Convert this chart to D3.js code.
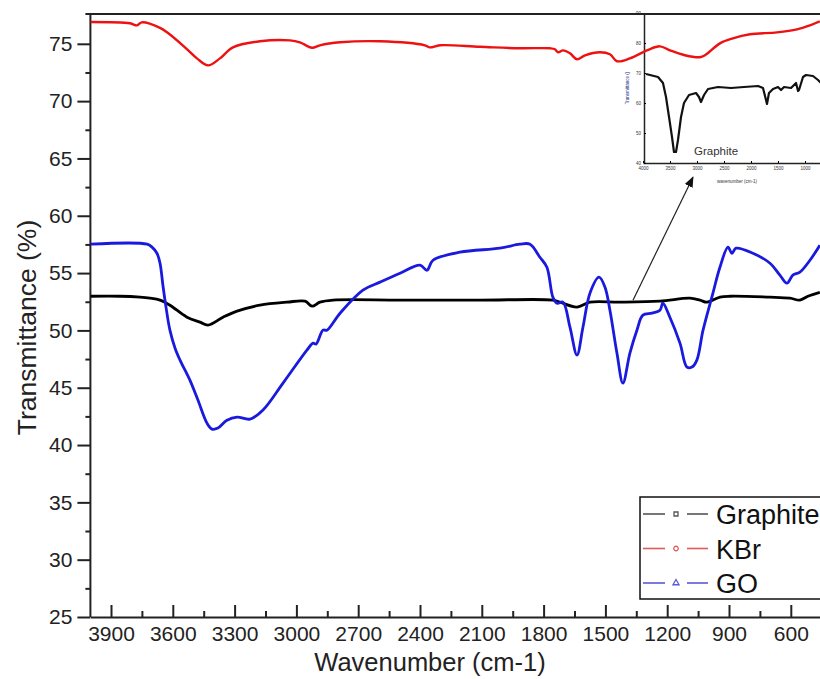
<!DOCTYPE html>
<html>
<head>
<meta charset="utf-8">
<script src="https://cdn.jsdelivr.net/npm/d3@7"></script>
<style>
    body { margin: 0; background: #fff; }
    svg { display: block; font-family: "Liberation Sans", Arial, sans-serif; }
    .tick-text { font-size: 21px; fill: #222; }
    .axis-title { font-size: 25.5px; fill: #222; }
    .y-title { font-size: 26.5px; fill: #222; }
    .legend-text { font-size: 27px; fill: #111; }
    .inset-text { font-size: 4.5px; fill: #333; }
</style>
</head>
<body>
<svg id="chart" width="820" height="679"></svg>
<script>
// Graphite (main plot)
const graphiteWave = [4000, 3856, 3759, 3711, 3662, 3614, 3531, 3468, 3429, 3356, 3288, 3177, 3046, 2958, 2924, 2886, 2822, 2497, 2109, 1755, 1721, 1638, 1575, 1429, 1235, 1090, 1041, 1007, 944, 895, 701, 604, 556, 517, 459];
const graphiteT = [52.98, 52.98, 52.90, 52.81, 52.64, 52.20, 51.15, 50.72, 50.46, 51.15, 51.68, 52.20, 52.46, 52.55, 52.11, 52.46, 52.64, 52.64, 52.64, 52.64, 52.46, 52.03, 52.46, 52.46, 52.55, 52.81, 52.64, 52.46, 52.90, 52.98, 52.90, 52.81, 52.64, 52.98, 53.33];

// KBr
const kbrWave = [4000, 3808, 3774, 3750, 3662, 3628, 3541, 3483, 3429, 3371, 3308, 3177, 3031, 2983, 2924, 2886, 2788, 2594, 2376, 2352, 2303, 2109, 1915, 1769, 1745, 1730, 1706, 1672, 1638, 1599, 1526, 1478, 1444, 1381, 1298, 1235, 1187, 1114, 1041, 1017, 944, 881, 798, 667, 570, 507, 459];
const kbrT = [76.90, 76.79, 76.61, 76.87, 76.39, 76.00, 74.69, 73.73, 73.12, 73.73, 74.69, 75.22, 75.30, 75.13, 74.65, 74.87, 75.13, 75.22, 74.87, 74.69, 74.87, 74.74, 74.61, 74.61, 74.52, 74.26, 74.43, 74.17, 73.65, 74.00, 74.26, 74.09, 73.48, 73.73, 74.43, 74.78, 74.43, 74.00, 73.83, 74.00, 75.04, 75.48, 75.83, 76.00, 76.26, 76.61, 76.96];

// GO
const goWave = [4000, 3725, 3701, 3677, 3662, 3648, 3633, 3614, 3589, 3565, 3517, 3478, 3434, 3410, 3381, 3337, 3288, 3225, 3162, 3065, 2949, 2919, 2905, 2871, 2852, 2788, 2677, 2594, 2497, 2400, 2366, 2337, 2206, 2012, 1915, 1866, 1818, 1784, 1755, 1735, 1706, 1672, 1638, 1609, 1575, 1531, 1502, 1478, 1444, 1415, 1381, 1347, 1318, 1274, 1235, 1221, 1187, 1138, 1104, 1080, 1056, 1026, 978, 944, 905, 886, 866, 784, 701, 653, 619, 590, 556, 507, 459];
const goT = [57.52, 57.52, 57.26, 56.73, 55.86, 53.94, 52.03, 50.02, 48.45, 47.41, 45.66, 43.92, 41.91, 41.39, 41.48, 42.17, 42.44, 42.26, 43.05, 45.40, 48.28, 48.89, 48.80, 50.02, 50.02, 51.50, 53.51, 54.21, 54.99, 55.69, 55.25, 56.12, 56.82, 57.17, 57.52, 57.52, 56.38, 55.51, 52.90, 52.37, 52.46, 50.28, 47.84, 50.28, 53.25, 54.64, 53.77, 51.76, 48.02, 45.40, 48.02, 50.02, 51.33, 51.50, 51.76, 52.37, 51.15, 48.89, 46.80, 46.80, 47.41, 50.02, 53.25, 55.51, 57.26, 56.73, 57.17, 56.73, 55.86, 54.82, 54.12, 54.82, 55.08, 56.12, 57.43];

// Inset: graphite spectrum on its own axes
const insetWave = [3944, 3722, 3630, 3574, 3518, 3463, 3426, 3389, 3352, 3296, 3241, 3148, 3018, 2963, 2926, 2870, 2796, 2611, 2370, 2130, 1870, 1778, 1722, 1704, 1667, 1592, 1500, 1444, 1389, 1259, 1166, 1129, 1111, 1037, 981, 852, 759, 704];
const insetT = [69.67, 68.67, 66.67, 62.00, 55.33, 48.67, 43.67, 43.67, 47.67, 55.33, 60.00, 62.67, 63.33, 62.00, 60.33, 62.67, 64.67, 65.33, 65.00, 65.33, 65.67, 65.00, 61.00, 59.67, 63.33, 64.67, 65.33, 64.33, 65.33, 65.00, 66.67, 64.00, 64.33, 68.67, 69.33, 69.00, 67.67, 66.67];

const yTicks = [25, 30, 35, 40, 45, 50, 55, 60, 65, 70, 75];
const xTicks = [3900, 3600, 3300, 3000, 2700, 2400, 2100, 1800, 1500, 1200, 900, 600];
const insetXTicks = [4000, 3500, 3000, 2500, 2000, 1500, 1000];
const insetYTicks = [40, 50, 60, 70, 80, 90];

const seriesNames = ["Graphite", "KBr", "GO"];
const seriesColors = ["#000000", "#ee1111", "#1a1adf"];
const legendColors = ["#555555", "#e05a5a", "#5a5ad8"];

// arrow from the graphite line up to the inset, in main-plot units
const arrowFrom = [1366, 52.64];
const arrowTo = [1075, 63.36];

function drawSpectra(svgId) {
    const svg = d3.select("#" + svgId);
    const left = 90.4, top = 14, bottom = 617;

    const x = d3.scaleLinear().domain([4000, 400]).range([left, left + 3600 * 0.206]);
    const y = d3.scaleLinear().domain([25, 77.6]).range([bottom, top]);

    svg.append("defs").append("clipPath").attr("id", "plotClip")
        .append("rect")
        .attr("x", left).attr("y", top)
        .attr("width", 820 - left).attr("height", bottom - top);

    svg.select("defs").append("marker")
        .attr("id", "arrowHead")
        .attr("viewBox", "0 0 10 10")
        .attr("refX", 9).attr("refY", 5)
        .attr("markerWidth", 9).attr("markerHeight", 9)
        .attr("orient", "auto")
        .append("path")
        .attr("d", "M0,1 L10,5 L0,9 Z")
        .attr("fill", "#111");

    // --- inset (drawn first so the main curves sit on top) ---
    const ix = d3.scaleLinear().domain([4000, 500]).range([643, 643 + 7 * 27]);
    const iy = d3.scaleLinear().domain([40, 90]).range([163, 13]);

    const inset = svg.append("g");

    inset.append("g")
        .attr("transform", `translate(0,${iy(40)})`)
        .call(d3.axisBottom(ix).tickValues(insetXTicks).tickSize(-2).tickSizeOuter(0).tickPadding(4).tickFormat(d3.format("d")))
        .call(g => g.select(".domain").attr("stroke", "#222").attr("stroke-width", 1.5))
        .call(g => g.selectAll("text").attr("class", "inset-text").attr("font-size", null).attr("fill", null));

    inset.append("g")
        .attr("transform", `translate(${ix(4000) + 1},0)`)
        .call(d3.axisLeft(iy).tickValues(insetYTicks).tickSize(-2).tickSizeOuter(0).tickPadding(3))
        .call(g => g.select(".domain").attr("stroke", "#222").attr("stroke-width", 1.5))
        .call(g => g.selectAll("text").attr("class", "inset-text").attr("font-size", null).attr("fill", null));

    inset.append("path")
        .datum(d3.zip(insetWave, insetT))
        .attr("fill", "none")
        .attr("stroke", "#111")
        .attr("stroke-width", 2.2)
        .attr("stroke-linejoin", "round")
        .attr("d", d3.line().x(d => ix(d[0])).y(d => iy(d[1])));

    inset.append("text")
        .text("Graphite")
        .attr("x", ix(3055)).attr("y", iy(42.67))
        .attr("font-size", 11.5)
        .attr("fill", "#333");

    svg.append("text")
        .text("wavenumber (cm-1)")
        .attr("x", 737).attr("y", 183)
        .attr("text-anchor", "middle")
        .attr("class", "inset-text");

    svg.append("text")
        .text("Transmittance ()")
        .attr("transform", `translate(629,${iy(65)}) rotate(-90)`)
        .attr("text-anchor", "middle")
        .attr("class", "inset-text")
        .style("fill", "#223388");

    // --- main axes ---
    svg.append("line")
        .attr("x1", left - 5).attr("x2", 820)
        .attr("y1", top).attr("y2", top)
        .attr("stroke", "#222").attr("stroke-width", 2);

    const yAxis = svg.append("g")
        .attr("transform", `translate(${left},0)`)
        .call(d3.axisLeft(y).tickValues(yTicks).tickSize(13).tickPadding(5).tickFormat(d3.format("d")));
    yAxis.select(".domain").attr("stroke", "#222").attr("stroke-width", 2).attr("d", `M0,${top}V${bottom}`);
    yAxis.selectAll(".tick line").attr("stroke", "#222").attr("stroke-width", 2);
    yAxis.selectAll(".tick text").attr("class", "tick-text").attr("font-size", null).attr("fill", null);

    const yMinor = d3.range(27.5, 75, 5);
    svg.append("g")
        .attr("transform", `translate(${left},0)`)
        .call(d3.axisLeft(y).tickValues(yMinor).tickSize(5).tickFormat(""))
        .call(g => g.select(".domain").remove())
        .call(g => g.selectAll(".tick line").attr("stroke", "#222").attr("stroke-width", 2));

    const xAxis = svg.append("g")
        .attr("transform", `translate(0,${bottom})`)
        .call(d3.axisBottom(x).tickValues(xTicks).tickSizeInner(-12).tickSizeOuter(0).tickPadding(10).tickFormat(d3.format("d")));
    xAxis.select(".domain").attr("stroke", "#222").attr("stroke-width", 2);
    xAxis.selectAll(".tick line").attr("stroke", "#222").attr("stroke-width", 2);
    xAxis.selectAll(".tick text").attr("class", "tick-text").attr("font-size", null).attr("fill", null)
        .attr("y", 9).attr("dy", "0.71em");

    const xMinor = d3.range(3750, 400, -300);
    svg.append("g")
        .attr("transform", `translate(0,${bottom})`)
        .call(d3.axisBottom(x).tickValues(xMinor).tickSize(-6).tickFormat(""))
        .call(g => g.select(".domain").remove())
        .call(g => g.selectAll(".tick line").attr("stroke", "#222").attr("stroke-width", 2));

    svg.append("text")
        .text("Wavenumber (cm-1)")
        .attr("x", 430).attr("y", 671)
        .attr("text-anchor", "middle")
        .attr("class", "axis-title");

    svg.append("text")
        .text("Transmittance (%)")
        .attr("transform", `translate(36,${(top + bottom) / 2 + 12}) rotate(-90)`)
        .attr("text-anchor", "middle")
        .attr("class", "y-title");

    // --- spectra ---
    const line = d3.line().x(d => x(d[0])).y(d => y(d[1])).curve(d3.curveCatmullRom.alpha(0.5));
    const series = [
        d3.zip(graphiteWave, graphiteT),
        d3.zip(kbrWave, kbrT),
        d3.zip(goWave, goT)
    ];

    svg.append("g")
        .attr("clip-path", "url(#plotClip)")
        .selectAll("path")
        .data(series)
        .enter().append("path")
        .attr("d", line)
        .attr("fill", "none")
        .attr("stroke", (d, i) => seriesColors[i])
        .attr("stroke-width", (d, i) => i == 1 ? 2.4 : 2.8)
        .attr("stroke-linejoin", "round");

    svg.append("line")
        .attr("x1", x(arrowFrom[0])).attr("y1", y(arrowFrom[1]))
        .attr("x2", x(arrowTo[0])).attr("y2", y(arrowTo[1]))
        .attr("stroke", "#222").attr("stroke-width", 1.2)
        .attr("marker-end", "url(#arrowHead)");

    // --- legend ---
    const legendX = 640, legendY = 497;
    svg.append("rect")
        .attr("x", legendX).attr("y", legendY)
        .attr("width", 200).attr("height", 102)
        .attr("fill", "#fff")
        .attr("stroke", "#111").attr("stroke-width", 1.5);

    const legend = svg.selectAll(".legend")
        .data(seriesNames)
        .enter().append("g")
        .attr("class", "legend")
        .attr("transform", (d, i) => `translate(${legendX}, ${legendY + 17 + i * 34.5})`);

    legend.append("line")
        .attr("x1", 3).attr("x2", 25).attr("y1", 0).attr("y2", 0)
        .attr("stroke", (d, i) => legendColors[i]).attr("stroke-width", 1.6);
    legend.append("line")
        .attr("x1", 47).attr("x2", 68).attr("y1", 0).attr("y2", 0)
        .attr("stroke", (d, i) => legendColors[i]).attr("stroke-width", 1.6);

    const symbols = [d3.symbolSquare, d3.symbolCircle, d3.symbolTriangle];
    legend.append("path")
        .attr("d", (d, i) => d3.symbol().type(symbols[i]).size(16)())
        .attr("transform", "translate(36,0)")
        .attr("fill", "none")
        .attr("stroke", (d, i) => legendColors[i])
        .attr("stroke-width", 1.3);

    legend.append("text")
        .text(d => d)
        .attr("x", 76).attr("y", 10)
        .attr("class", "legend-text");
}

drawSpectra("chart");
</script>
</body>
</html>
